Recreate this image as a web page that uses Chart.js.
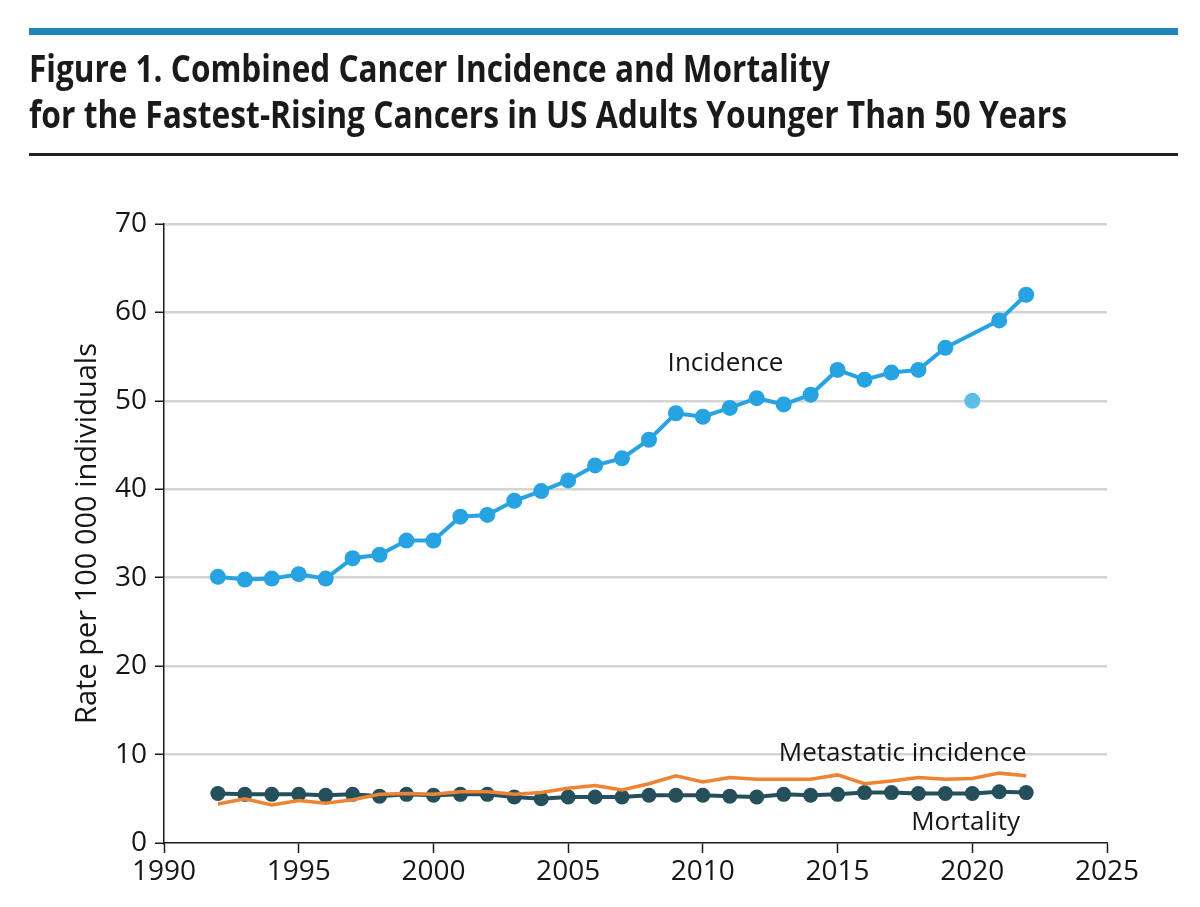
<!DOCTYPE html>
<html>
<head>
<meta charset="utf-8">
<script src="https://cdn.jsdelivr.net/npm/chart.js@4.4.1/dist/chart.umd.min.js"></script>
<style>
html,body{margin:0;padding:0;background:#fff;width:1200px;height:907px;overflow:hidden;}
#bar{position:absolute;left:29px;top:28px;width:1149px;height:7px;background:#1f87b8;}
.tl{position:absolute;left:29px;font-family:"Open Sans",sans-serif;font-weight:700;font-size:37px;line-height:37px;color:#1a1a1a;white-space:nowrap;transform-origin:0 0;}
#rule{position:absolute;left:29px;top:153px;width:1149px;height:3px;background:#222;}
#c{position:absolute;left:0;top:0;}
</style>
</head>
<body>
<canvas id="c" width="1200" height="907"></canvas>
<div id="bar"></div>
<div class="tl" id="t1" style="top:49px">Figure 1. Combined Cancer Incidence and Mortality</div>
<div class="tl" id="t2" style="top:95px">for the Fastest-Rising Cancers in US Adults Younger Than 50 Years</div>
<div id="rule"></div>
<script>
const years = [1992,1993,1994,1995,1996,1997,1998,1999,2000,2001,2002,2003,2004,2005,2006,2007,2008,2009,2010,2011,2012,2013,2014,2015,2016,2017,2018,2019,2020,2021,2022];
const incidence = [30.1,29.8,29.9,30.4,29.9,32.2,32.6,34.2,34.2,36.9,37.1,38.7,39.8,41.0,42.7,43.5,45.6,48.6,48.2,49.2,50.3,49.6,50.7,53.5,52.4,53.2,53.5,56.0,null,59.1,62.0];
const incidence2020Year = [2020];
const incidence2020 = [50.0];
const metastatic = [4.4,5.0,4.3,4.8,4.5,4.9,5.5,5.6,5.5,5.8,5.8,5.5,5.7,6.2,6.5,6.0,6.7,7.6,6.9,7.4,7.2,7.2,7.2,7.7,6.7,7.0,7.4,7.2,7.3,7.9,7.6];
const mortality = [5.6,5.5,5.5,5.5,5.4,5.5,5.3,5.5,5.4,5.5,5.5,5.2,5.0,5.2,5.2,5.2,5.4,5.4,5.4,5.3,5.2,5.5,5.4,5.5,5.7,5.7,5.6,5.6,5.6,5.8,5.7];
const xTicks = [1990,1995,2000,2005,2010,2015,2020,2025];
const yTicks = [0,10,20,30,40,50,60,70];
const seriesLabels = ['Incidence','Metastatic incidence','Mortality'];

function fitTitle(){
  [['t1',801],['t2',1038]].forEach(([id,w])=>{
    const el=document.getElementById(id);
    el.style.transform='none';
    const cw=el.getBoundingClientRect().width;
    if(cw>0) el.style.transform='scaleX('+(w/cw)+')';
  });
}
fitTitle();
if(document.fonts&&document.fonts.ready) document.fonts.ready.then(fitTitle);

const toPts = (arr)=>years.map((y,i)=>({x:y,y:arr[i]}));

const textLabels = {
  id:'textLabels',
  afterDatasetsDraw(chart){
    const {ctx,scales:{x,y}} = chart;
    const spec = [
      {t:seriesLabels[0], px:2010.84, py:53.4, align:'center'},
      {t:seriesLabels[1], px:2022.02, py:9.28, align:'right'},
      {t:seriesLabels[2], px:2021.77, py:1.44, align:'right'}
    ];
    ctx.save();
    ctx.font = '26px "Open Sans"';
    ctx.fillStyle = '#161616';
    ctx.textBaseline = 'alphabetic';
    spec.forEach(s=>{
      ctx.textAlign = s.align;
      ctx.fillText(s.t, x.getPixelForValue(s.px), y.getPixelForValue(s.py));
    });
    ctx.restore();
  }
};

new Chart(document.getElementById('c'), {
  type:'line',
  data:{datasets:[
    {label:seriesLabels[1], data:toPts(metastatic), borderColor:'#ec8434', backgroundColor:'#ec8434', borderWidth:3.5, pointRadius:0, tension:0, order:1},
    {label:seriesLabels[2], data:toPts(mortality), borderColor:'#254f5b', backgroundColor:'#254f5b', borderWidth:4, pointRadius:7.5, pointBorderWidth:0, tension:0, order:2},
    {label:seriesLabels[0], data:toPts(incidence), borderColor:'#27a3e2', backgroundColor:'#27a3e2', borderWidth:4, pointRadius:8, pointBorderWidth:0, spanGaps:true, tension:0, order:3},
    {label:seriesLabels[0]+' 2020', data:incidence2020Year.map((y,i)=>({x:y,y:incidence2020[i]})), showLine:false, borderColor:'#5dbde9', backgroundColor:'#5dbde9', pointRadius:8, pointBorderWidth:0, order:4}
  ]},
  options:{
    responsive:false, animation:false, devicePixelRatio:1,
    layout:{padding:{top:224,right:93,left:70,bottom:0}},
    plugins:{legend:{display:false},tooltip:{enabled:false}},
    scales:{
      x:{type:'linear',min:xTicks[0],max:xTicks[xTicks.length-1],
        afterBuildTicks(s){s.ticks = xTicks.map(v=>({value:v}));},
        ticks:{callback:v=>String(v),font:{family:'Open Sans',size:28},color:'#161616',padding:2,maxRotation:0,autoSkip:false},
        grid:{drawOnChartArea:false,tickLength:10,tickColor:'#1a1a1a',tickWidth:1.5},
        border:{color:'#1a1a1a',width:1.5},
        afterFit(s){s.height=64;}
      },
      y:{type:'linear',min:yTicks[0],max:yTicks[yTicks.length-1],
        afterBuildTicks(s){s.ticks = yTicks.map(v=>({value:v}));},
        ticks:{callback:v=>String(v),font:{family:'Open Sans',size:28},color:'#161616',padding:8},
        grid:{color:(c)=>c.tick&&c.tick.value===0?'rgba(0,0,0,0)':'#d4d4d4',lineWidth:2.5,tickLength:9,tickColor:'#1a1a1a',tickWidth:1.5},
        border:{color:'#1a1a1a',width:1.5},
        title:{display:true,text:'Rate per 100 000 individuals',font:{family:'Open Sans',size:29},color:'#161616',padding:0},
        afterFit(s){s.width=94;}
      }
    }
  },
  plugins:[textLabels]
});
</script>
</body>
</html>
